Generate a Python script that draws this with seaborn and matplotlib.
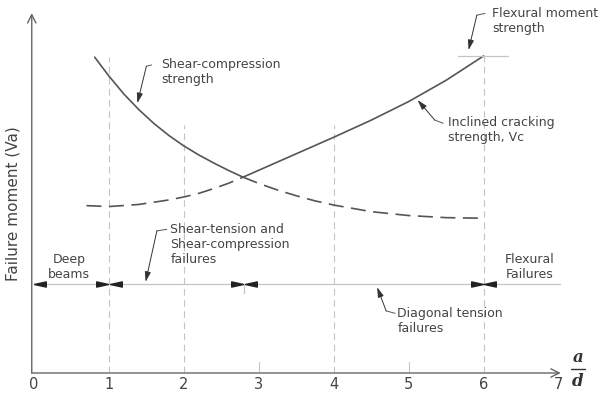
import matplotlib
matplotlib.use("Agg")
import matplotlib.pyplot as plt
import seaborn as sns
from matplotlib.path import Path

sns.set_theme(style="white")
plt.rcParams["font.family"] = ["DejaVu Sans"]

# ---------------- data ----------------
x_ticks = [0, 1, 2, 3, 4, 5, 6, 7]

# Shear-compression strength (solid up to the crossing, dashed after)
sc_x = [0.81, 1.0, 1.2, 1.4, 1.6, 1.8, 2.0, 2.2, 2.4, 2.6, 2.79,
        3.0, 3.25, 3.5, 3.75, 4.0, 4.5, 5.0, 5.5, 6.0]
sc_y = [10.53, 9.90, 9.30, 8.78, 8.32, 7.92, 7.57, 7.27, 7.00, 6.75, 6.53,
        6.32, 6.10, 5.91, 5.74, 5.60, 5.38, 5.25, 5.18, 5.16]
sc_split = 10   # index of the crossing point

# Inclined cracking strength Vc (dashed up to the crossing, solid after)
ic_x = [0.70, 1.0, 1.4, 1.8, 2.0, 2.2, 2.4, 2.6, 2.79,
        3.0, 3.4, 3.8, 4.0, 4.5, 5.0, 5.5, 6.0]
ic_y = [5.58, 5.55, 5.62, 5.77, 5.87, 5.99, 6.15, 6.33, 6.53,
        6.76, 7.20, 7.64, 7.86, 8.43, 9.05, 9.76, 10.57]
ic_split = 8

# vertical guide lines (x, top)
guide_x = [1, 2, 4, 6]
guide_top = [10.53, 8.27, 8.27, 10.57]

# flexural moment strength level
flex_level = 10.57
flex_span = [5.66, 6.33]

# failure-mode boundary line
mode_y = 2.97
mode_span = [0.0, 7.02]
left_tips = [0.0, 1.01, 2.81, 6.01]
right_tips = [0.99, 2.79, 5.99]

labels = [
    ("Shear-compression\nstrength", 1.70, 10.03, "left"),
    ("Flexural moment\nstrength", 6.11, 11.73, "left"),
    ("Inclined cracking\nstrength, Vc", 5.52, 8.10, "left"),
    ("Shear-tension and\nShear-compression\nfailures", 1.82, 4.30, "left"),
    ("Diagonal tension\nfailures", 4.85, 1.75, "left"),
    ("Deep\nbeams", 0.47, 3.52, "center"),
    ("Flexural\nFailures", 6.62, 3.53, "center"),
]

# leaders: (start, bend, tip)
leaders = [
    ((1.57, 10.27), (1.50, 10.23), (1.38, 9.00)),
    ((6.02, 11.99), (5.91, 11.93), (5.80, 10.77)),
    ((5.46, 8.33), (5.35, 8.43), (5.12, 9.10)),
    ((1.77, 4.79), (1.64, 4.74), (1.49, 3.04)),
    ((4.82, 1.99), (4.70, 2.07), (4.58, 2.86)),
]

# ---------------- figure ----------------
W, H = 598, 394
fig = plt.figure(figsize=(W / 100, H / 100), dpi=100)
ax = fig.add_axes([34 / W, (H - 373) / H, (560 - 34) / W, (373 - 14) / H])
ax.set_xlim(0, 7.02)
ax.set_ylim(0, 11.97)
for s in ax.spines.values():
    s.set_visible(False)

dark = "#555555"
light = "#c4c4c4"
txt = "#444444"

# guide lines
for gx, gt in zip(guide_x, guide_top):
    ax.plot([gx, gx], [0, gt], color=light, lw=0.8, linestyle=(0, (6, 4)), zorder=1)
for tx in [3, 5]:
    ax.plot([tx, tx], [0, 0.37], color=light, lw=0.8, zorder=1)

# curves
dash = (0, (9, 4.5))
sns.lineplot(x=sc_x[:sc_split + 1], y=sc_y[:sc_split + 1], ax=ax, color=dark,
             lw=1.2, sort=False, estimator=None)
sns.lineplot(x=sc_x[sc_split:], y=sc_y[sc_split:], ax=ax, color=dark,
             lw=1.2, sort=False, estimator=None, linestyle=dash)
sns.lineplot(x=ic_x[:ic_split + 1], y=ic_y[:ic_split + 1], ax=ax, color=dark,
             lw=1.2, sort=False, estimator=None, linestyle=dash)
sns.lineplot(x=ic_x[ic_split:], y=ic_y[ic_split:], ax=ax, color=dark,
             lw=1.2, sort=False, estimator=None)

# flexural level
ax.plot(flex_span, [flex_level, flex_level], color=light, lw=0.9)

# mode line and arrows
ax.plot(mode_span, [mode_y, mode_y], color=light, lw=0.9, clip_on=False)
ax.plot([2.80, 2.80], [mode_y - 0.30, mode_y], color=light, lw=0.9)
left_mark = Path([(0, 0), (1, 0.22), (1, -0.22), (0, 0)])
right_mark = Path([(0, 0), (-1, 0.22), (-1, -0.22), (0, 0)])
ax.plot(left_tips, [mode_y] * len(left_tips), linestyle="none", marker=left_mark,
        ms=17, color="#222222", clip_on=False)
ax.plot(right_tips, [mode_y] * len(right_tips), linestyle="none", marker=right_mark,
        ms=17, color="#222222", clip_on=False)

# axes arrows
ax.annotate("", xy=(7.03, 0), xytext=(-0.03, 0), annotation_clip=False,
            arrowprops=dict(arrowstyle="->,head_length=0.5,head_width=0.25",
                            color="#666666", lw=1.0, shrinkA=0, shrinkB=0))
ax.annotate("", xy=(-0.03, 12.0), xytext=(-0.03, 0), annotation_clip=False,
            arrowprops=dict(arrowstyle="->,head_length=0.5,head_width=0.25",
                            color="#666666", lw=1.0, shrinkA=0, shrinkB=0))

# ticks
ax.set_xticks(x_ticks)
ax.set_xticklabels([str(t) for t in x_ticks])
ax.tick_params(axis="x", length=0, pad=3, labelsize=10.5, labelcolor=txt)
ax.set_yticks([])
ax.set_ylabel("")
ax.text(-(34 - 13.5) / (560 - 34), (373 - 204) / (373 - 14), "Failure moment (Va)",
        transform=ax.transAxes, rotation=90, ha="center", va="center",
        fontsize=11, color=txt)

# a/d
ax.text(7.26, 0.53, "a", ha="center", va="center", family="DejaVu Serif",
        style="italic", weight="bold", fontsize=12, color="#333333")
ax.text(7.26, -0.30, "d", ha="center", va="center", family="DejaVu Serif",
        style="italic", weight="bold", fontsize=12, color="#333333")
ax.plot([7.17, 7.36], [0.13, 0.13], color="#333333", lw=1.0, clip_on=False)

# labels
for s, lx, ly, ha in labels:
    ax.text(lx, ly, s, ha=ha, va="center", fontsize=9, color=txt, linespacing=1.2)

# leaders
for st, bd, tp in leaders:
    ax.plot([st[0], bd[0]], [st[1], bd[1]], color=dark, lw=0.7, clip_on=False)
    ax.annotate("", xy=tp, xytext=bd, annotation_clip=False,
                arrowprops=dict(arrowstyle="-|>,head_length=0.5,head_width=0.15",
                                color="#333333", lw=0.7, shrinkA=0, shrinkB=0))

fig.savefig("out.png", dpi=100)
